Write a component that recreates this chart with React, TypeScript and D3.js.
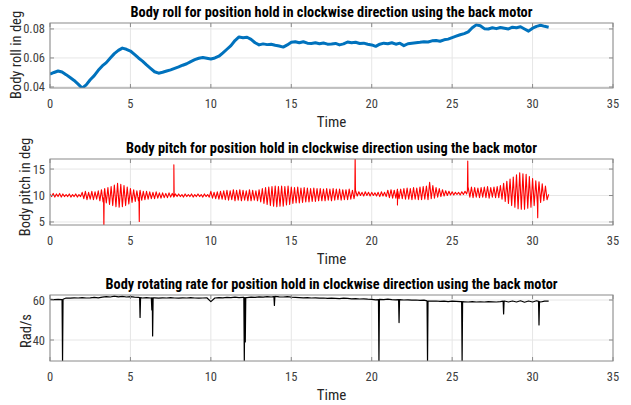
import React from 'react';
import * as d3 from 'd3';

const W = 631;
const H = 405;
const X0 = 50;
const X1 = 613;
const FONT = "'Liberation Sans Narrow', 'Arial Narrow', 'Roboto Condensed', 'Liberation Sans', sans-serif";

const xTicks = [0, 5, 10, 15, 20, 25, 30, 35];

// body roll, sampled every 0.25 s
const rollStep = 0.25;
const rollValues = [
  0.0488, 0.0500, 0.0510, 0.0503, 0.0485, 0.0465, 0.0445, 0.0420,
  0.0392, 0.0415, 0.0450, 0.0478, 0.0515, 0.0545, 0.0568, 0.0600,
  0.0630, 0.0652, 0.0668, 0.0660, 0.0648, 0.0625, 0.0600, 0.0578,
  0.0552, 0.0528, 0.0505, 0.0495, 0.0502, 0.0510, 0.0518, 0.0528,
  0.0538, 0.0550, 0.0560, 0.0575, 0.0588, 0.0598, 0.0603, 0.0598,
  0.0593, 0.0600, 0.0612, 0.0635, 0.0660, 0.0685, 0.0720, 0.0745,
  0.0740, 0.0743, 0.0728, 0.0705, 0.0690, 0.0697, 0.0692, 0.0695,
  0.0688, 0.0682, 0.0675, 0.0690, 0.0708, 0.0712, 0.0705, 0.0712,
  0.0702, 0.0700, 0.0705, 0.0698, 0.0703, 0.0695, 0.0697, 0.0700,
  0.0690, 0.0697, 0.0710, 0.0705, 0.0708, 0.0700, 0.0702, 0.0695,
  0.0690, 0.0680, 0.0695, 0.0702, 0.0698, 0.0705, 0.0695, 0.0702,
  0.0685, 0.0698, 0.0702, 0.0705, 0.0708, 0.0712, 0.0710, 0.0718,
  0.0720, 0.0715, 0.0725, 0.0730, 0.0740, 0.0750, 0.0760, 0.0768,
  0.0780, 0.0808, 0.0828, 0.0822, 0.0802, 0.0800, 0.0808, 0.0802,
  0.0810, 0.0805, 0.0800, 0.0812, 0.0808, 0.0815, 0.0800, 0.0785,
  0.0805, 0.0818, 0.0825, 0.0818, 0.0812,
];
const rollTicks = [0.04, 0.06, 0.08];

// body pitch, sampled every 0.1 s
const pitchStep = 0.1;
const pitchValues = [
  10.3, 9.8, 10.4, 9.7, 10.3, 9.8, 10.4, 9.7, 10.3, 9.8,
  10.2, 9.8, 10.3, 9.7, 10.2, 9.8, 10.3, 9.7, 10.2, 9.8,
  10.6, 9.4, 10.8, 9.2, 10.6, 9.3, 10.8, 9.2, 10.7, 9.3,
  10.9, 9.0, 11.1, 8.8, 11.3, 8.6, 11.5, 8.3, 11.7, 8.1,
  12.0, 7.9, 12.3, 7.8, 12.1, 7.9, 11.9, 8.1, 11.6, 8.4,
  11.3, 8.7, 11.1, 8.9, 10.9, 9.0, 11.0, 9.1, 10.8, 9.2,
  10.8, 9.3, 10.7, 9.4, 10.6, 9.4, 10.7, 9.5, 10.5, 9.5,
  10.5, 9.6, 10.4, 9.6, 10.5, 9.7, 10.4, 9.7, 10.3, 9.8,
  10.3, 9.8, 10.2, 9.7, 10.3, 9.8, 10.2, 9.8, 10.3, 9.7,
  10.2, 9.8, 10.3, 9.8, 10.2, 9.7, 10.3, 9.8, 10.2, 9.7,
  10.8, 9.5, 10.6, 9.4, 10.7, 9.3, 10.8, 9.3, 10.9, 9.2,
  11.0, 9.1, 10.9, 9.2, 11.1, 9.0, 11.0, 9.1, 11.1, 9.0,
  11.0, 9.1, 10.9, 9.0, 11.1, 9.0, 11.0, 9.1, 10.9, 9.0,
  11.1, 8.8, 11.3, 8.5, 11.5, 8.3, 11.6, 8.1, 11.7, 8.0,
  11.8, 7.9, 11.7, 8.0, 11.8, 8.0, 11.7, 8.2, 11.8, 8.3,
  11.6, 8.5, 11.5, 8.6, 11.6, 8.6, 11.4, 8.7, 11.5, 8.8,
  11.4, 8.8, 11.3, 8.9, 11.4, 8.9, 11.3, 9.0, 11.3, 9.0,
  11.2, 9.0, 11.3, 9.1, 11.2, 9.0, 11.3, 9.1, 11.2, 9.2,
  11.2, 9.1, 11.1, 9.2, 11.1, 9.2, 11.2, 9.3, 11.0, 9.4,
  10.9, 9.9, 10.7, 10.0, 10.6, 9.9, 10.7, 10.0, 10.6, 9.9,
  10.6, 10.0, 10.5, 9.9, 10.6, 9.8, 10.7, 9.9, 10.6, 9.8,
  11.0, 9.6, 11.1, 9.5, 11.0, 9.5, 11.2, 9.4, 11.2, 9.4,
  11.3, 9.3, 11.4, 9.3, 11.3, 9.2, 11.5, 9.3, 11.4, 9.2,
  11.6, 9.2, 11.7, 9.3, 11.8, 9.2, 12.5, 9.4, 11.9, 9.5,
  11.5, 9.7, 11.3, 9.8, 11.1, 9.9, 10.9, 10.0, 10.8, 10.1,
  10.7, 10.1, 10.6, 10.2, 10.6, 10.1, 10.7, 10.2, 10.8, 10.3,
  11.5, 9.7, 11.6, 9.6, 11.5, 9.7, 11.4, 9.6, 11.5, 9.7,
  11.6, 9.6, 11.7, 9.5, 11.5, 9.7, 11.6, 9.6, 11.7, 9.6,
  11.9, 9.3, 12.3, 8.9, 12.7, 8.5, 13.1, 8.1, 13.5, 7.8,
  13.9, 7.5, 14.3, 7.4, 14.1, 7.4, 14.0, 7.6, 13.6, 7.8,
  13.2, 8.1, 12.8, 8.4, 12.6, 8.7, 12.2, 9.0, 11.8, 9.2,
  10.2,
];
// single-sample spikes in pitch: [time, value]
const pitchSpikes: [number, number][] = [
  [3.35, 4.2], [5.55, 5.1], [7.7, 15.8], [18.97, 17.5],
  [21.6, 8.2], [25.97, 16.5], [30.32, 5.8],
];
const pitchTicks = [5, 10, 15];

// rotating rate, sampled every 0.25 s
const rateStep = 0.25;
const rateValues = [
  60.3, 60.2, 60.3, 60.2,
  61.0, 60.9, 61.1, 61.0, 61.2, 61.0, 61.1, 61.3, 61.1,
  61.4, 61.7, 61.5, 61.9, 61.6, 61.8, 61.5, 61.7, 61.4, 61.3,
  61.0, 61.2, 61.0, 61.1, 60.9, 61.1, 61.0, 61.2, 61.0, 60.9, 61.1, 61.0, 61.2, 61.0, 60.9, 61.0, 61.1,
  59.2,
  61.0, 61.2, 61.1, 61.3, 61.2, 61.4, 61.2, 61.3,
  61.2, 61.4, 61.3, 61.6, 61.4, 61.7, 61.5, 61.8, 61.6, 61.5, 61.7, 61.4,
  61.3, 61.2, 61.1, 61.2, 61.0, 61.1, 60.9, 61.0, 60.8, 60.9, 60.8, 60.7, 60.9, 60.8, 60.6, 60.7, 60.5, 60.6, 60.4,
  60.3, 60.1, 60.3, 60.2, 60.4, 60.2, 60.1, 60.2, 60.0, 60.1, 59.9, 60.0, 59.8, 59.9,
  59.5, 59.4, 59.5, 59.3, 59.4, 59.2, 59.4, 59.3, 59.2,
  59.1, 59.0, 59.2, 59.0, 59.1, 59.0, 59.2, 59.1, 59.0,
  59.2, 59.5, 59.0, 59.5, 59.0, 59.6, 58.9, 59.5, 59.0, 59.6, 59.0, 59.4, 59.4,
];
// sharp drops in rate: [time, value]
const rateDips: [number, number][] = [
  [0.78, 29.0], [5.6, 51.3], [6.33, 55.0], [6.38, 42.0], [12.08, 29.0],
  [12.14, 39.0], [13.95, 57.3], [20.45, 29.0], [21.7, 48.7], [23.47, 29.0],
  [25.62, 29.0], [28.2, 53.0], [30.4, 47.5],
];
const rateTicks = [40, 60];

function withEvents(values: number[], step: number, events: [number, number][], w: number) {
  const base: [number, number][] = values.map((v, i) => [i * step, v]);
  const baseAt = (t: number) => {
    const i = Math.min(values.length - 2, Math.max(0, Math.floor(t / step)));
    const f = (t - i * step) / step;
    return values[i] + (values[i + 1] - values[i]) * f;
  };
  const extra: [number, number][] = events.flatMap(([t, v]) => [
    [t - w, baseAt(t - w)] as [number, number],
    [t, v] as [number, number],
    [t + w, baseAt(t + w)] as [number, number],
  ]);
  return [...base, ...extra].sort((a, b) => a[0] - b[0]);
}

const rollPoints: [number, number][] = rollValues.map((v, i) => [i * rollStep, v]);
const pitchPoints = withEvents(pitchValues, pitchStep, pitchSpikes, 0.02);
const ratePoints = withEvents(rateValues, rateStep, rateDips, 0.03);

type PanelProps = {
  id: string;
  top: number;
  bottom: number;
  yDomain: [number, number];
  yTicks: number[];
  fmt: (v: number) => string;
  title: string;
  titleLen: number;
  ylabel: string;
  ylabelX: number;
  ylabelY: number;
  points: [number, number][];
  color: string;
  lineWidth: number;
};

function Panel(p: PanelProps) {
  const x = d3.scaleLinear().domain([0, 35]).range([X0, X1]);
  const y = d3.scaleLinear().domain(p.yDomain).range([p.bottom, p.top]);
  const line = d3.line<[number, number]>().x((d) => x(d[0])).y((d) => y(d[1]));
  const tick = 4;
  const cx = (X0 + X1) / 2;
  return (
    <g>
      <defs>
        <clipPath id={`clip-${p.id}`}>
          <rect x={X0} y={p.top} width={X1 - X0} height={p.bottom - p.top} />
        </clipPath>
      </defs>
      <rect x={X0} y={p.top} width={X1 - X0} height={p.bottom - p.top} fill="#fff" />
      {xTicks.map((t) => (
        <line key={`gx${t}`} x1={x(t)} x2={x(t)} y1={p.top} y2={p.bottom} stroke="#e6e6e6" strokeWidth={1} />
      ))}
      {p.yTicks.map((t) => (
        <line key={`gy${t}`} x1={X0} x2={X1} y1={y(t)} y2={y(t)} stroke="#e6e6e6" strokeWidth={1} />
      ))}
      <path d={line(p.points) ?? ''} fill="none" stroke={p.color} strokeWidth={p.lineWidth}
        strokeLinejoin="round" clipPath={`url(#clip-${p.id})`} />
      <rect x={X0} y={p.top} width={X1 - X0} height={p.bottom - p.top} fill="none" stroke="#8a8a8a" strokeWidth={1} />
      {xTicks.map((t) => (
        <g key={`tx${t}`}>
          <line x1={x(t)} x2={x(t)} y1={p.bottom} y2={p.bottom - tick} stroke="#8a8a8a" />
          <line x1={x(t)} x2={x(t)} y1={p.top} y2={p.top + tick} stroke="#8a8a8a" />
          <text x={x(t)} y={p.bottom + 20} textAnchor="middle" fontSize={12.5} fill="#404040">{t}</text>
        </g>
      ))}
      {p.yTicks.map((t) => (
        <g key={`ty${t}`}>
          <line x1={X0} x2={X0 + tick} y1={y(t)} y2={y(t)} stroke="#8a8a8a" />
          <line x1={X1} x2={X1 - tick} y1={y(t)} y2={y(t)} stroke="#8a8a8a" />
          <text x={X0 - 5} y={y(t) + 4.5} textAnchor="end" fontSize={12.5} fill="#404040">{p.fmt(t)}</text>
        </g>
      ))}
      <text x={cx} y={p.bottom + 39} textAnchor="middle" fontSize={15} fill="#262626">Time</text>
      <text x={cx} y={p.top - 6} textAnchor="middle" fontSize={15} fontWeight="bold" fill="#000"
        textLength={p.titleLen} lengthAdjust="spacingAndGlyphs">{p.title}</text>
      <text transform={`translate(${p.ylabelX},${p.ylabelY}) rotate(-90)`} textAnchor="middle"
        fontSize={14.5} fill="#262626">{p.ylabel}</text>
    </g>
  );
}

export default function App() {
  return (
    <svg width={W} height={H} style={{ position: 'absolute', left: 0, top: 0, background: '#fff' }}
      fontFamily={FONT}>
      <rect width={W} height={H} fill="#fff" />
      <Panel id="roll" top={23} bottom={88} yDomain={[0.0393, 0.0841]} yTicks={rollTicks}
        fmt={d3.format('.2f')} title="Body roll for position hold in clockwise direction using the back motor"
        titleLen={402} ylabel="Body roll in deg" ylabelX={21} ylabelY={55} points={rollPoints}
        color="#0072bd" lineWidth={3} />
      <Panel id="pitch" top={159} bottom={225} yDomain={[4.43, 16.9]} yTicks={pitchTicks}
        fmt={d3.format('d')} title="Body pitch for position hold in clockwise direction using the back motor"
        titleLen={411} ylabel="Body pitch in deg" ylabelX={30} ylabelY={187} points={pitchPoints}
        color="#ff0000" lineWidth={1.1} />
      <Panel id="rate" top={295} bottom={361} yDomain={[29.5, 62.5]} yTicks={rateTicks}
        fmt={d3.format('d')} title="Body rotating rate for position hold in clockwise direction using the back motor"
        titleLen={452} ylabel="Rad/s" ylabelX={31} ylabelY={331} points={ratePoints}
        color="#000000" lineWidth={1.2} />
    </svg>
  );
}
